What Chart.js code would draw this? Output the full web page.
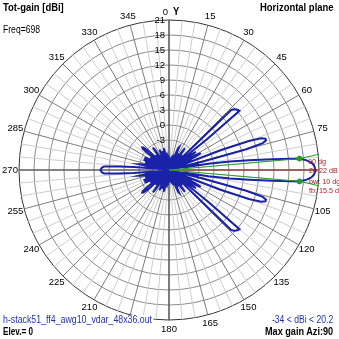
<!DOCTYPE html>
<html lang="en">
<head>
<meta charset="UTF-8">
<title>Tot-gain [dBi] - Horizontal plane</title>
<script src="https://cdn.jsdelivr.net/npm/chart.js"></script>
<style>
  html, body { margin: 0; padding: 0; background: #fff; overflow: hidden; }
  #wrap { position: relative; width: 339px; height: 339px; font-family: "Liberation Sans", Arial, sans-serif; }
  canvas { position: absolute; left: 0; top: 0; }
  .t { position: absolute; white-space: nowrap; line-height: 1; font-size: 10px; color: #000;
       transform: scaleX(0.86); transform-origin: 0 0; }
  .r { transform-origin: 100% 0; }
  .b { font-weight: bold; font-size: 11px; }
  .blue { color: #2233a8; }
  .red { color: #a81c1c; font-size: 8px; transform: scaleX(0.9); }
</style>
</head>
<body>
<div id="wrap">
  <canvas id="polar" width="339" height="339"></canvas>
  <div class="t b" style="left:3px;top:2px;">Tot-gain [dBi]</div>
  <div class="t" style="left:3px;top:25px;">Freq=698</div>
  <div class="t b r" style="right:5px;top:2px;">Horizontal plane</div>
  <div class="t b" style="left:173px;top:6px;">Y</div>
  <div class="t red" style="left:308px;top:158px;">90 dg</div>
  <div class="t red" style="left:309px;top:167px;">20.22 dB</div>
  <div class="t red" style="left:309px;top:178px;">bw: 10 dg</div>
  <div class="t red" style="left:309px;top:187px;">fb: 15.5 dB</div>
  <div class="t blue" style="left:3px;top:315px;background:#fff;padding:0 2px 1px 0;transform:scaleX(0.88);">h-stack51_ff4_awg10_vdar_48x36.out</div>
  <div class="t b" style="left:3px;top:326px;transform:scaleX(0.74);">Elev.= 0</div>
  <div class="t blue r" style="right:6px;top:315px;">-34 &lt; dBi &lt; 20.2</div>
  <div class="t b r" style="right:6px;top:326px;transform:scaleX(0.83);">Max gain Azi:90</div>
</div>
<script>
  // gain in dBi, one value per degree of azimuth
  const gain000 = [
    -12, -14, -9, -6.5, -15, -18, -10, -7, -8.5, -20,
    -16, -8, -6.2, -9, -20, -14, -7.5, -5.8, -7, -18,
    -20, -9, -5.5, -4.2, -4.0, -6, -15, -20, -10, -6,
    -5.2, -7, -18, -20, -8, -4.8, -3.6, -5, -14, -20,
    -12, -6, -5, -8, -20, -11, 8.3, 8.8, 9.1, 9.3,
    9.4, 1.0, -14, -20, -9, -3.5, -2.5, -4, -12, -20,
    -10, -3, -1.8, -3.5, -16, -20, -8, -4, -12, 2,
    8, 10.5, 11.3, 11.3, 10.5, 7, -2, -20, -5, -3,
    -6, -1, 3.3, 7.1, 11.8, 17.2, 18.6, 19.5, 19.95, 20.17
  ];
  const gain090 = [
    20.22, 20.17, 19.95, 19.5, 18.6, 17.2, 11.8, 7.1, 3.3, -1,
    -6, -3, -5, -20, -2, 7, 10.5, 11.3, 11.3, 10.5,
    8, 2, -12, -4, -8, -20, -16, -3.5, -1.8, -3,
    -10, -20, -12, -4, -2.5, -3.5, -9, -20, -14, 1.0,
    9.4, 9.3, 9.1, 8.8, 8.3, -11, -20, -8, -5, -6,
    -12, -20, -14, -5, -3.6, -4.8, -8, -20, -18, -7,
    -5.2, -6, -10, -20, -15, -6, -4.0, -4.2, -5.5, -9,
    -20, -18, -7, -5.8, -7.5, -14, -20, -9, -6.2, -8,
    -16, -20, -8.5, -7, -10, -18, -15, -6.5, -9, -14
  ];
  const gain180 = [
    -12, -16, -8, -6, -9, -20, -12, -7, -5.5, -8,
    -20, -20, -9, -5, -4.5, -7, -18, -20, -10, -6,
    -5, -8, -20, -14, -7, -4.5, -5.5, -12, -20, -9,
    -5.5, -6.5, -16, -20, -8, -4, -3.5, -6, -20, -14,
    -6, -7, -5, -6, -12, -20, -10, -4, -2.6, -2.1,
    -2.0, -2.2, -3.5, -9, -20, -12, -6, -4.5, -5, -9,
    -20, -9, -4, -3.5, -6, -20, -12, -5, -3.5, -5.5,
    -18, -20, -7, -4, -5, -12, -20, -8, -3.5, -3,
    -6, -20, -12, -5, -6, -2, 1, 4.0, 4.4, 4.6
  ];
  const gain270 = [
    4.7, 4.6, 4.4, 4.0, 1, -2, -6, -5, -12, -20,
    -6, -3, -3.5, -8, -20, -12, -5, -4, -7, -20,
    -18, -5.5, -3.5, -5, -12, -20, -6, -3.5, -4, -9,
    -20, -9, -5, -4.5, -6, -12, -20, -9, -3.5, -2.2,
    -2.0, -2.1, -2.6, -4, -10, -20, -12, -6, -5, -7,
    -6, -14, -20, -6, -3.5, -4, -8, -20, -16, -6.5,
    -5.5, -9, -20, -12, -5.5, -4.5, -7, -14, -20, -8,
    -5, -6, -10, -20, -18, -7, -4.5, -5, -9, -20,
    -20, -8, -5.5, -7, -12, -20, -9, -6, -8, -16
  ];
  const gain = [...gain000, ...gain090, ...gain180, ...gain270];

  const rMin = -9, rMax = 21, rStep = 3;
  const ringLabels = [21, 18, 15, 12, 9, 6, 3, 0, -3];
  const azimuthLabels = [0, 15, 30, 45, 60, 75, 90, 105, 120, 135, 150, 165, 180,
                         195, 210, 225, 240, 255, 270, 285, 300, 315, 330, 345];

  // beam marks: max gain direction and -3 dB beamwidth points
  const maxAzi = 90, maxGain = 20.22;
  const bwLeft = 85, bwRight = 95, bwGain = 17.2;

  const azimuths = gain.map((_, i) => i);
  const clampGain = gain.map(v => Math.max(v, rMin));

  const blank = () => azimuths.map(() => null);
  const maxLine = blank();
  maxLine[maxAzi - 1] = rMin; maxLine[maxAzi] = maxGain;
  const bwUpper = blank();
  bwUpper[bwLeft - 1] = 21.2; bwUpper[bwLeft] = bwGain; bwUpper[bwLeft + 1] = rMin;
  const bwLower = blank();
  bwLower[bwRight - 1] = rMin; bwLower[bwRight] = bwGain; bwLower[bwRight + 1] = 21.2;

  const labelFont = '9.5px "Liberation Sans", Arial, sans-serif';

  const polarText = {
    id: 'polarText',
    beforeDatasetsDraw(chart) {
      const r = chart.scales.r;
      const c = chart.ctx;
      c.save();
      c.font = labelFont;
      c.fillStyle = '#000';
      c.textAlign = 'right';
      c.textBaseline = 'middle';
      ringLabels.forEach(v => {
        c.fillText(String(v), r.xCenter - 4, r.yCenter - r.getDistanceFromCenterForValue(v));
      });
      c.textAlign = 'center';
      azimuthLabels.forEach(az => {
        if (az === 90) return;
        const p = r.getPointPosition(az, r.drawingArea + 9);
        if (az === 0) {
          c.textAlign = 'right';
          c.fillText('0', p.x - 1, p.y + 1);
          c.textAlign = 'center';
          return;
        }
        c.fillText(String(az), p.x, p.y);
      });
      c.restore();
    }
  };

  const green = '#22a022';

  new Chart(document.getElementById('polar'), {
    type: 'radar',
    data: {
      labels: azimuths,
      datasets: [
        {
          data: clampGain, order: 2,
          borderColor: '#1a22a8', borderWidth: 2,
          pointRadius: 0, fill: false, tension: 0
        },
        {
          data: maxLine, order: 1,
          borderColor: '#b83c3c', borderWidth: 1,
          pointRadius: 0, fill: false, spanGaps: false
        },
        {
          data: bwUpper, order: 0,
          borderColor: green, borderWidth: 1, fill: false, spanGaps: false,
          pointRadius: c => c.index === bwLeft ? 2.5 : 0,
          pointBackgroundColor: green, pointBorderColor: green
        },
        {
          data: bwLower, order: 0,
          borderColor: green, borderWidth: 1, fill: false, spanGaps: false,
          pointRadius: c => c.index === bwRight ? 2.5 : 0,
          pointBackgroundColor: green, pointBorderColor: green
        }
      ]
    },
    options: {
      responsive: false,
      animation: false,
      layout: { padding: { left: 19, right: 20, top: 20, bottom: 19 } },
      plugins: { legend: { display: false }, tooltip: { enabled: false } },
      elements: { line: { tension: 0 } },
      scales: {
        r: {
          min: rMin, max: rMax,
          startAngle: 0,
          ticks: { display: false, stepSize: rStep },
          pointLabels: { display: false },
          grid: {
            circular: true,
            color: c => c.tick && c.tick.value === rMax ? '#333' : '#8a8a8a',
            lineWidth: 1
          },
          angleLines: {
            color: c => c.index % 90 === 0 ? '#5c5c5c' : c.index % 15 === 0 ? '#7c7c7c' : '#cdcdcd',
            lineWidth: c => c.index % 90 === 0 ? 1.6 : c.index % 5 === 0 ? 1 : 0
          }
        }
      }
    },
    plugins: [polarText]
  });
</script>
</body>
</html>
